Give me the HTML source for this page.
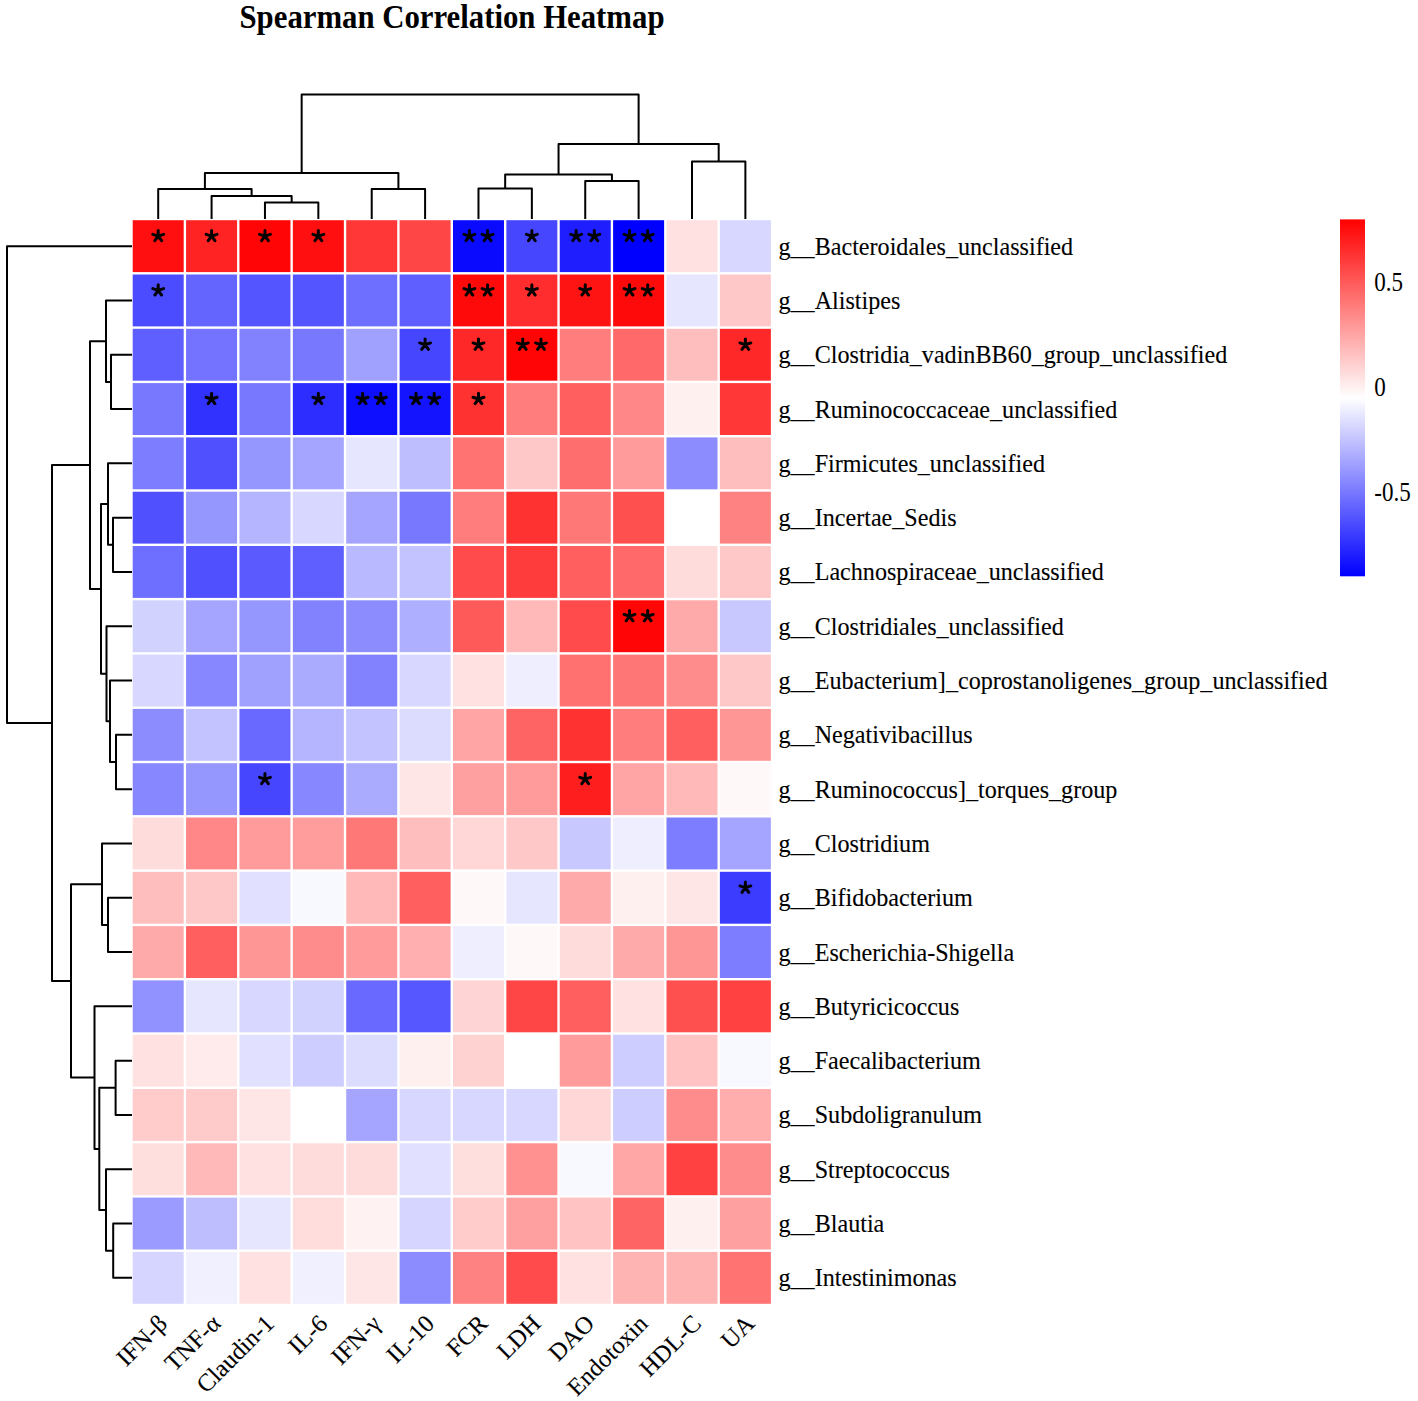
<!DOCTYPE html><html><head><meta charset="utf-8"><style>html,body{margin:0;padding:0;background:#fff;overflow:hidden;}svg{display:block}</style></head><body>
<svg width="1418" height="1401" viewBox="0 0 1418 1401">
<rect width="1418" height="1401" fill="#fff"/>
<text x="239.5" y="27.6" textLength="425" lengthAdjust="spacingAndGlyphs" font-family="Liberation Serif" font-weight="bold" font-size="33">Spearman Correlation Heatmap</text>
<rect x="132.70" y="220.20" width="51.0" height="51.9" fill="rgb(255,15,15)"/>
<rect x="186.08" y="220.20" width="51.0" height="51.9" fill="rgb(255,35,35)"/>
<rect x="239.46" y="220.20" width="51.0" height="51.9" fill="rgb(255,5,5)"/>
<rect x="292.84" y="220.20" width="51.0" height="51.9" fill="rgb(255,15,15)"/>
<rect x="346.22" y="220.20" width="51.0" height="51.9" fill="rgb(255,55,55)"/>
<rect x="399.60" y="220.20" width="51.0" height="51.9" fill="rgb(255,70,70)"/>
<rect x="452.98" y="220.20" width="51.0" height="51.9" fill="rgb(10,10,255)"/>
<rect x="506.36" y="220.20" width="51.0" height="51.9" fill="rgb(70,70,255)"/>
<rect x="559.74" y="220.20" width="51.0" height="51.9" fill="rgb(30,30,255)"/>
<rect x="613.12" y="220.20" width="51.0" height="51.9" fill="rgb(0,0,255)"/>
<rect x="666.50" y="220.20" width="51.0" height="51.9" fill="rgb(255,225,225)"/>
<rect x="719.88" y="220.20" width="51.0" height="51.9" fill="rgb(215,215,255)"/>
<rect x="132.70" y="274.50" width="51.0" height="51.9" fill="rgb(75,75,255)"/>
<rect x="186.08" y="274.50" width="51.0" height="51.9" fill="rgb(100,100,255)"/>
<rect x="239.46" y="274.50" width="51.0" height="51.9" fill="rgb(85,85,255)"/>
<rect x="292.84" y="274.50" width="51.0" height="51.9" fill="rgb(85,85,255)"/>
<rect x="346.22" y="274.50" width="51.0" height="51.9" fill="rgb(110,110,255)"/>
<rect x="399.60" y="274.50" width="51.0" height="51.9" fill="rgb(95,95,255)"/>
<rect x="452.98" y="274.50" width="51.0" height="51.9" fill="rgb(255,10,10)"/>
<rect x="506.36" y="274.50" width="51.0" height="51.9" fill="rgb(255,45,45)"/>
<rect x="559.74" y="274.50" width="51.0" height="51.9" fill="rgb(255,20,20)"/>
<rect x="613.12" y="274.50" width="51.0" height="51.9" fill="rgb(255,10,10)"/>
<rect x="666.50" y="274.50" width="51.0" height="51.9" fill="rgb(230,230,255)"/>
<rect x="719.88" y="274.50" width="51.0" height="51.9" fill="rgb(255,200,200)"/>
<rect x="132.70" y="328.80" width="51.0" height="51.9" fill="rgb(95,95,255)"/>
<rect x="186.08" y="328.80" width="51.0" height="51.9" fill="rgb(115,115,255)"/>
<rect x="239.46" y="328.80" width="51.0" height="51.9" fill="rgb(130,130,255)"/>
<rect x="292.84" y="328.80" width="51.0" height="51.9" fill="rgb(120,120,255)"/>
<rect x="346.22" y="328.80" width="51.0" height="51.9" fill="rgb(160,160,255)"/>
<rect x="399.60" y="328.80" width="51.0" height="51.9" fill="rgb(70,70,255)"/>
<rect x="452.98" y="328.80" width="51.0" height="51.9" fill="rgb(255,40,40)"/>
<rect x="506.36" y="328.80" width="51.0" height="51.9" fill="rgb(255,5,5)"/>
<rect x="559.74" y="328.80" width="51.0" height="51.9" fill="rgb(255,125,125)"/>
<rect x="613.12" y="328.80" width="51.0" height="51.9" fill="rgb(255,105,105)"/>
<rect x="666.50" y="328.80" width="51.0" height="51.9" fill="rgb(255,190,190)"/>
<rect x="719.88" y="328.80" width="51.0" height="51.9" fill="rgb(255,40,40)"/>
<rect x="132.70" y="383.10" width="51.0" height="51.9" fill="rgb(120,120,255)"/>
<rect x="186.08" y="383.10" width="51.0" height="51.9" fill="rgb(50,50,255)"/>
<rect x="239.46" y="383.10" width="51.0" height="51.9" fill="rgb(120,120,255)"/>
<rect x="292.84" y="383.10" width="51.0" height="51.9" fill="rgb(45,45,255)"/>
<rect x="346.22" y="383.10" width="51.0" height="51.9" fill="rgb(15,15,255)"/>
<rect x="399.60" y="383.10" width="51.0" height="51.9" fill="rgb(20,20,255)"/>
<rect x="452.98" y="383.10" width="51.0" height="51.9" fill="rgb(255,50,50)"/>
<rect x="506.36" y="383.10" width="51.0" height="51.9" fill="rgb(255,125,125)"/>
<rect x="559.74" y="383.10" width="51.0" height="51.9" fill="rgb(255,95,95)"/>
<rect x="613.12" y="383.10" width="51.0" height="51.9" fill="rgb(255,135,135)"/>
<rect x="666.50" y="383.10" width="51.0" height="51.9" fill="rgb(255,240,240)"/>
<rect x="719.88" y="383.10" width="51.0" height="51.9" fill="rgb(255,55,55)"/>
<rect x="132.70" y="437.40" width="51.0" height="51.9" fill="rgb(125,125,255)"/>
<rect x="186.08" y="437.40" width="51.0" height="51.9" fill="rgb(80,80,255)"/>
<rect x="239.46" y="437.40" width="51.0" height="51.9" fill="rgb(150,150,255)"/>
<rect x="292.84" y="437.40" width="51.0" height="51.9" fill="rgb(165,165,255)"/>
<rect x="346.22" y="437.40" width="51.0" height="51.9" fill="rgb(230,230,255)"/>
<rect x="399.60" y="437.40" width="51.0" height="51.9" fill="rgb(190,190,255)"/>
<rect x="452.98" y="437.40" width="51.0" height="51.9" fill="rgb(255,115,115)"/>
<rect x="506.36" y="437.40" width="51.0" height="51.9" fill="rgb(255,200,200)"/>
<rect x="559.74" y="437.40" width="51.0" height="51.9" fill="rgb(255,110,110)"/>
<rect x="613.12" y="437.40" width="51.0" height="51.9" fill="rgb(255,155,155)"/>
<rect x="666.50" y="437.40" width="51.0" height="51.9" fill="rgb(140,140,255)"/>
<rect x="719.88" y="437.40" width="51.0" height="51.9" fill="rgb(255,190,190)"/>
<rect x="132.70" y="491.70" width="51.0" height="51.9" fill="rgb(80,80,255)"/>
<rect x="186.08" y="491.70" width="51.0" height="51.9" fill="rgb(150,150,255)"/>
<rect x="239.46" y="491.70" width="51.0" height="51.9" fill="rgb(180,180,255)"/>
<rect x="292.84" y="491.70" width="51.0" height="51.9" fill="rgb(215,215,255)"/>
<rect x="346.22" y="491.70" width="51.0" height="51.9" fill="rgb(165,165,255)"/>
<rect x="399.60" y="491.70" width="51.0" height="51.9" fill="rgb(120,120,255)"/>
<rect x="452.98" y="491.70" width="51.0" height="51.9" fill="rgb(255,125,125)"/>
<rect x="506.36" y="491.70" width="51.0" height="51.9" fill="rgb(255,50,50)"/>
<rect x="559.74" y="491.70" width="51.0" height="51.9" fill="rgb(255,120,120)"/>
<rect x="613.12" y="491.70" width="51.0" height="51.9" fill="rgb(255,80,80)"/>
<rect x="666.50" y="491.70" width="51.0" height="51.9" fill="rgb(255,255,255)"/>
<rect x="719.88" y="491.70" width="51.0" height="51.9" fill="rgb(255,130,130)"/>
<rect x="132.70" y="546.00" width="51.0" height="51.9" fill="rgb(110,110,255)"/>
<rect x="186.08" y="546.00" width="51.0" height="51.9" fill="rgb(80,80,255)"/>
<rect x="239.46" y="546.00" width="51.0" height="51.9" fill="rgb(90,90,255)"/>
<rect x="292.84" y="546.00" width="51.0" height="51.9" fill="rgb(95,95,255)"/>
<rect x="346.22" y="546.00" width="51.0" height="51.9" fill="rgb(185,185,255)"/>
<rect x="399.60" y="546.00" width="51.0" height="51.9" fill="rgb(195,195,255)"/>
<rect x="452.98" y="546.00" width="51.0" height="51.9" fill="rgb(255,75,75)"/>
<rect x="506.36" y="546.00" width="51.0" height="51.9" fill="rgb(255,60,60)"/>
<rect x="559.74" y="546.00" width="51.0" height="51.9" fill="rgb(255,95,95)"/>
<rect x="613.12" y="546.00" width="51.0" height="51.9" fill="rgb(255,105,105)"/>
<rect x="666.50" y="546.00" width="51.0" height="51.9" fill="rgb(255,220,220)"/>
<rect x="719.88" y="546.00" width="51.0" height="51.9" fill="rgb(255,200,200)"/>
<rect x="132.70" y="600.30" width="51.0" height="51.9" fill="rgb(210,210,255)"/>
<rect x="186.08" y="600.30" width="51.0" height="51.9" fill="rgb(165,165,255)"/>
<rect x="239.46" y="600.30" width="51.0" height="51.9" fill="rgb(150,150,255)"/>
<rect x="292.84" y="600.30" width="51.0" height="51.9" fill="rgb(130,130,255)"/>
<rect x="346.22" y="600.30" width="51.0" height="51.9" fill="rgb(140,140,255)"/>
<rect x="399.60" y="600.30" width="51.0" height="51.9" fill="rgb(175,175,255)"/>
<rect x="452.98" y="600.30" width="51.0" height="51.9" fill="rgb(255,90,90)"/>
<rect x="506.36" y="600.30" width="51.0" height="51.9" fill="rgb(255,185,185)"/>
<rect x="559.74" y="600.30" width="51.0" height="51.9" fill="rgb(255,75,75)"/>
<rect x="613.12" y="600.30" width="51.0" height="51.9" fill="rgb(255,5,5)"/>
<rect x="666.50" y="600.30" width="51.0" height="51.9" fill="rgb(255,170,170)"/>
<rect x="719.88" y="600.30" width="51.0" height="51.9" fill="rgb(200,200,255)"/>
<rect x="132.70" y="654.60" width="51.0" height="51.9" fill="rgb(215,215,255)"/>
<rect x="186.08" y="654.60" width="51.0" height="51.9" fill="rgb(135,135,255)"/>
<rect x="239.46" y="654.60" width="51.0" height="51.9" fill="rgb(160,160,255)"/>
<rect x="292.84" y="654.60" width="51.0" height="51.9" fill="rgb(170,170,255)"/>
<rect x="346.22" y="654.60" width="51.0" height="51.9" fill="rgb(130,130,255)"/>
<rect x="399.60" y="654.60" width="51.0" height="51.9" fill="rgb(215,215,255)"/>
<rect x="452.98" y="654.60" width="51.0" height="51.9" fill="rgb(255,225,225)"/>
<rect x="506.36" y="654.60" width="51.0" height="51.9" fill="rgb(238,238,255)"/>
<rect x="559.74" y="654.60" width="51.0" height="51.9" fill="rgb(255,112,112)"/>
<rect x="613.12" y="654.60" width="51.0" height="51.9" fill="rgb(255,118,118)"/>
<rect x="666.50" y="654.60" width="51.0" height="51.9" fill="rgb(255,140,140)"/>
<rect x="719.88" y="654.60" width="51.0" height="51.9" fill="rgb(255,200,200)"/>
<rect x="132.70" y="708.90" width="51.0" height="51.9" fill="rgb(140,140,255)"/>
<rect x="186.08" y="708.90" width="51.0" height="51.9" fill="rgb(195,195,255)"/>
<rect x="239.46" y="708.90" width="51.0" height="51.9" fill="rgb(105,105,255)"/>
<rect x="292.84" y="708.90" width="51.0" height="51.9" fill="rgb(180,180,255)"/>
<rect x="346.22" y="708.90" width="51.0" height="51.9" fill="rgb(195,195,255)"/>
<rect x="399.60" y="708.90" width="51.0" height="51.9" fill="rgb(220,220,255)"/>
<rect x="452.98" y="708.90" width="51.0" height="51.9" fill="rgb(255,165,165)"/>
<rect x="506.36" y="708.90" width="51.0" height="51.9" fill="rgb(255,100,100)"/>
<rect x="559.74" y="708.90" width="51.0" height="51.9" fill="rgb(255,50,50)"/>
<rect x="613.12" y="708.90" width="51.0" height="51.9" fill="rgb(255,125,125)"/>
<rect x="666.50" y="708.90" width="51.0" height="51.9" fill="rgb(255,95,95)"/>
<rect x="719.88" y="708.90" width="51.0" height="51.9" fill="rgb(255,150,150)"/>
<rect x="132.70" y="763.20" width="51.0" height="51.9" fill="rgb(135,135,255)"/>
<rect x="186.08" y="763.20" width="51.0" height="51.9" fill="rgb(150,150,255)"/>
<rect x="239.46" y="763.20" width="51.0" height="51.9" fill="rgb(70,70,255)"/>
<rect x="292.84" y="763.20" width="51.0" height="51.9" fill="rgb(135,135,255)"/>
<rect x="346.22" y="763.20" width="51.0" height="51.9" fill="rgb(170,170,255)"/>
<rect x="399.60" y="763.20" width="51.0" height="51.9" fill="rgb(255,230,230)"/>
<rect x="452.98" y="763.20" width="51.0" height="51.9" fill="rgb(255,160,160)"/>
<rect x="506.36" y="763.20" width="51.0" height="51.9" fill="rgb(255,155,155)"/>
<rect x="559.74" y="763.20" width="51.0" height="51.9" fill="rgb(255,30,30)"/>
<rect x="613.12" y="763.20" width="51.0" height="51.9" fill="rgb(255,165,165)"/>
<rect x="666.50" y="763.20" width="51.0" height="51.9" fill="rgb(255,185,185)"/>
<rect x="719.88" y="763.20" width="51.0" height="51.9" fill="rgb(255,248,248)"/>
<rect x="132.70" y="817.50" width="51.0" height="51.9" fill="rgb(255,220,220)"/>
<rect x="186.08" y="817.50" width="51.0" height="51.9" fill="rgb(255,135,135)"/>
<rect x="239.46" y="817.50" width="51.0" height="51.9" fill="rgb(255,155,155)"/>
<rect x="292.84" y="817.50" width="51.0" height="51.9" fill="rgb(255,157,157)"/>
<rect x="346.22" y="817.50" width="51.0" height="51.9" fill="rgb(255,120,120)"/>
<rect x="399.60" y="817.50" width="51.0" height="51.9" fill="rgb(255,190,190)"/>
<rect x="452.98" y="817.50" width="51.0" height="51.9" fill="rgb(255,215,215)"/>
<rect x="506.36" y="817.50" width="51.0" height="51.9" fill="rgb(255,200,200)"/>
<rect x="559.74" y="817.50" width="51.0" height="51.9" fill="rgb(200,200,255)"/>
<rect x="613.12" y="817.50" width="51.0" height="51.9" fill="rgb(238,238,255)"/>
<rect x="666.50" y="817.50" width="51.0" height="51.9" fill="rgb(125,125,255)"/>
<rect x="719.88" y="817.50" width="51.0" height="51.9" fill="rgb(165,165,255)"/>
<rect x="132.70" y="871.80" width="51.0" height="51.9" fill="rgb(255,190,190)"/>
<rect x="186.08" y="871.80" width="51.0" height="51.9" fill="rgb(255,200,200)"/>
<rect x="239.46" y="871.80" width="51.0" height="51.9" fill="rgb(225,225,255)"/>
<rect x="292.84" y="871.80" width="51.0" height="51.9" fill="rgb(248,248,255)"/>
<rect x="346.22" y="871.80" width="51.0" height="51.9" fill="rgb(255,185,185)"/>
<rect x="399.60" y="871.80" width="51.0" height="51.9" fill="rgb(255,95,95)"/>
<rect x="452.98" y="871.80" width="51.0" height="51.9" fill="rgb(255,248,248)"/>
<rect x="506.36" y="871.80" width="51.0" height="51.9" fill="rgb(230,230,255)"/>
<rect x="559.74" y="871.80" width="51.0" height="51.9" fill="rgb(255,170,170)"/>
<rect x="613.12" y="871.80" width="51.0" height="51.9" fill="rgb(255,240,240)"/>
<rect x="666.50" y="871.80" width="51.0" height="51.9" fill="rgb(255,230,230)"/>
<rect x="719.88" y="871.80" width="51.0" height="51.9" fill="rgb(60,60,255)"/>
<rect x="132.70" y="926.10" width="51.0" height="51.9" fill="rgb(255,170,170)"/>
<rect x="186.08" y="926.10" width="51.0" height="51.9" fill="rgb(255,95,95)"/>
<rect x="239.46" y="926.10" width="51.0" height="51.9" fill="rgb(255,150,150)"/>
<rect x="292.84" y="926.10" width="51.0" height="51.9" fill="rgb(255,140,140)"/>
<rect x="346.22" y="926.10" width="51.0" height="51.9" fill="rgb(255,155,155)"/>
<rect x="399.60" y="926.10" width="51.0" height="51.9" fill="rgb(255,175,175)"/>
<rect x="452.98" y="926.10" width="51.0" height="51.9" fill="rgb(238,238,255)"/>
<rect x="506.36" y="926.10" width="51.0" height="51.9" fill="rgb(255,248,248)"/>
<rect x="559.74" y="926.10" width="51.0" height="51.9" fill="rgb(255,220,220)"/>
<rect x="613.12" y="926.10" width="51.0" height="51.9" fill="rgb(255,170,170)"/>
<rect x="666.50" y="926.10" width="51.0" height="51.9" fill="rgb(255,150,150)"/>
<rect x="719.88" y="926.10" width="51.0" height="51.9" fill="rgb(125,125,255)"/>
<rect x="132.70" y="980.40" width="51.0" height="51.9" fill="rgb(145,145,255)"/>
<rect x="186.08" y="980.40" width="51.0" height="51.9" fill="rgb(230,230,255)"/>
<rect x="239.46" y="980.40" width="51.0" height="51.9" fill="rgb(215,215,255)"/>
<rect x="292.84" y="980.40" width="51.0" height="51.9" fill="rgb(210,210,255)"/>
<rect x="346.22" y="980.40" width="51.0" height="51.9" fill="rgb(105,105,255)"/>
<rect x="399.60" y="980.40" width="51.0" height="51.9" fill="rgb(87,87,255)"/>
<rect x="452.98" y="980.40" width="51.0" height="51.9" fill="rgb(255,212,212)"/>
<rect x="506.36" y="980.40" width="51.0" height="51.9" fill="rgb(255,70,70)"/>
<rect x="559.74" y="980.40" width="51.0" height="51.9" fill="rgb(255,95,95)"/>
<rect x="613.12" y="980.40" width="51.0" height="51.9" fill="rgb(255,225,225)"/>
<rect x="666.50" y="980.40" width="51.0" height="51.9" fill="rgb(255,80,80)"/>
<rect x="719.88" y="980.40" width="51.0" height="51.9" fill="rgb(255,65,65)"/>
<rect x="132.70" y="1034.70" width="51.0" height="51.9" fill="rgb(255,225,225)"/>
<rect x="186.08" y="1034.70" width="51.0" height="51.9" fill="rgb(255,235,235)"/>
<rect x="239.46" y="1034.70" width="51.0" height="51.9" fill="rgb(225,225,255)"/>
<rect x="292.84" y="1034.70" width="51.0" height="51.9" fill="rgb(205,205,255)"/>
<rect x="346.22" y="1034.70" width="51.0" height="51.9" fill="rgb(220,220,255)"/>
<rect x="399.60" y="1034.70" width="51.0" height="51.9" fill="rgb(255,240,240)"/>
<rect x="452.98" y="1034.70" width="51.0" height="51.9" fill="rgb(255,210,210)"/>
<rect x="506.36" y="1034.70" width="51.0" height="51.9" fill="rgb(255,255,255)"/>
<rect x="559.74" y="1034.70" width="51.0" height="51.9" fill="rgb(255,155,155)"/>
<rect x="613.12" y="1034.70" width="51.0" height="51.9" fill="rgb(205,205,255)"/>
<rect x="666.50" y="1034.70" width="51.0" height="51.9" fill="rgb(255,195,195)"/>
<rect x="719.88" y="1034.70" width="51.0" height="51.9" fill="rgb(248,248,255)"/>
<rect x="132.70" y="1089.00" width="51.0" height="51.9" fill="rgb(255,203,203)"/>
<rect x="186.08" y="1089.00" width="51.0" height="51.9" fill="rgb(255,202,202)"/>
<rect x="239.46" y="1089.00" width="51.0" height="51.9" fill="rgb(255,230,230)"/>
<rect x="292.84" y="1089.00" width="51.0" height="51.9" fill="rgb(255,255,255)"/>
<rect x="346.22" y="1089.00" width="51.0" height="51.9" fill="rgb(165,165,255)"/>
<rect x="399.60" y="1089.00" width="51.0" height="51.9" fill="rgb(215,215,255)"/>
<rect x="452.98" y="1089.00" width="51.0" height="51.9" fill="rgb(215,215,255)"/>
<rect x="506.36" y="1089.00" width="51.0" height="51.9" fill="rgb(215,215,255)"/>
<rect x="559.74" y="1089.00" width="51.0" height="51.9" fill="rgb(255,215,215)"/>
<rect x="613.12" y="1089.00" width="51.0" height="51.9" fill="rgb(205,205,255)"/>
<rect x="666.50" y="1089.00" width="51.0" height="51.9" fill="rgb(255,140,140)"/>
<rect x="719.88" y="1089.00" width="51.0" height="51.9" fill="rgb(255,173,173)"/>
<rect x="132.70" y="1143.30" width="51.0" height="51.9" fill="rgb(255,222,222)"/>
<rect x="186.08" y="1143.30" width="51.0" height="51.9" fill="rgb(255,185,185)"/>
<rect x="239.46" y="1143.30" width="51.0" height="51.9" fill="rgb(255,225,225)"/>
<rect x="292.84" y="1143.30" width="51.0" height="51.9" fill="rgb(255,220,220)"/>
<rect x="346.22" y="1143.30" width="51.0" height="51.9" fill="rgb(255,220,220)"/>
<rect x="399.60" y="1143.30" width="51.0" height="51.9" fill="rgb(225,225,255)"/>
<rect x="452.98" y="1143.30" width="51.0" height="51.9" fill="rgb(255,222,222)"/>
<rect x="506.36" y="1143.30" width="51.0" height="51.9" fill="rgb(255,145,145)"/>
<rect x="559.74" y="1143.30" width="51.0" height="51.9" fill="rgb(248,248,255)"/>
<rect x="613.12" y="1143.30" width="51.0" height="51.9" fill="rgb(255,167,167)"/>
<rect x="666.50" y="1143.30" width="51.0" height="51.9" fill="rgb(255,65,65)"/>
<rect x="719.88" y="1143.30" width="51.0" height="51.9" fill="rgb(255,140,140)"/>
<rect x="132.70" y="1197.60" width="51.0" height="51.9" fill="rgb(155,155,255)"/>
<rect x="186.08" y="1197.60" width="51.0" height="51.9" fill="rgb(190,190,255)"/>
<rect x="239.46" y="1197.60" width="51.0" height="51.9" fill="rgb(230,230,255)"/>
<rect x="292.84" y="1197.60" width="51.0" height="51.9" fill="rgb(255,221,221)"/>
<rect x="346.22" y="1197.60" width="51.0" height="51.9" fill="rgb(255,242,242)"/>
<rect x="399.60" y="1197.60" width="51.0" height="51.9" fill="rgb(213,213,255)"/>
<rect x="452.98" y="1197.60" width="51.0" height="51.9" fill="rgb(255,203,203)"/>
<rect x="506.36" y="1197.60" width="51.0" height="51.9" fill="rgb(255,160,160)"/>
<rect x="559.74" y="1197.60" width="51.0" height="51.9" fill="rgb(255,195,195)"/>
<rect x="613.12" y="1197.60" width="51.0" height="51.9" fill="rgb(255,100,100)"/>
<rect x="666.50" y="1197.60" width="51.0" height="51.9" fill="rgb(255,240,240)"/>
<rect x="719.88" y="1197.60" width="51.0" height="51.9" fill="rgb(255,160,160)"/>
<rect x="132.70" y="1251.90" width="51.0" height="51.9" fill="rgb(213,213,255)"/>
<rect x="186.08" y="1251.90" width="51.0" height="51.9" fill="rgb(240,240,255)"/>
<rect x="239.46" y="1251.90" width="51.0" height="51.9" fill="rgb(255,225,225)"/>
<rect x="292.84" y="1251.90" width="51.0" height="51.9" fill="rgb(240,240,255)"/>
<rect x="346.22" y="1251.90" width="51.0" height="51.9" fill="rgb(255,230,230)"/>
<rect x="399.60" y="1251.90" width="51.0" height="51.9" fill="rgb(140,140,255)"/>
<rect x="452.98" y="1251.90" width="51.0" height="51.9" fill="rgb(255,130,130)"/>
<rect x="506.36" y="1251.90" width="51.0" height="51.9" fill="rgb(255,75,75)"/>
<rect x="559.74" y="1251.90" width="51.0" height="51.9" fill="rgb(255,225,225)"/>
<rect x="613.12" y="1251.90" width="51.0" height="51.9" fill="rgb(255,180,180)"/>
<rect x="666.50" y="1251.90" width="51.0" height="51.9" fill="rgb(255,180,180)"/>
<rect x="719.88" y="1251.90" width="51.0" height="51.9" fill="rgb(255,115,115)"/>
<path d="M158.20 236.10L158.20 230.40M158.20 236.10L163.62 234.34M158.20 236.10L161.55 240.71M158.20 236.10L154.85 240.71M158.20 236.10L152.78 234.34M211.58 236.10L211.58 230.40M211.58 236.10L217.00 234.34M211.58 236.10L214.93 240.71M211.58 236.10L208.23 240.71M211.58 236.10L206.16 234.34M264.96 236.10L264.96 230.40M264.96 236.10L270.38 234.34M264.96 236.10L268.31 240.71M264.96 236.10L261.61 240.71M264.96 236.10L259.54 234.34M318.34 236.10L318.34 230.40M318.34 236.10L323.76 234.34M318.34 236.10L321.69 240.71M318.34 236.10L314.99 240.71M318.34 236.10L312.92 234.34M469.38 236.10L469.38 230.40M469.38 236.10L474.80 234.34M469.38 236.10L472.73 240.71M469.38 236.10L466.03 240.71M469.38 236.10L463.96 234.34M487.58 236.10L487.58 230.40M487.58 236.10L493.00 234.34M487.58 236.10L490.93 240.71M487.58 236.10L484.23 240.71M487.58 236.10L482.16 234.34M531.86 236.10L531.86 230.40M531.86 236.10L537.28 234.34M531.86 236.10L535.21 240.71M531.86 236.10L528.51 240.71M531.86 236.10L526.44 234.34M576.14 236.10L576.14 230.40M576.14 236.10L581.56 234.34M576.14 236.10L579.49 240.71M576.14 236.10L572.79 240.71M576.14 236.10L570.72 234.34M594.34 236.10L594.34 230.40M594.34 236.10L599.76 234.34M594.34 236.10L597.69 240.71M594.34 236.10L590.99 240.71M594.34 236.10L588.92 234.34M629.52 236.10L629.52 230.40M629.52 236.10L634.94 234.34M629.52 236.10L632.87 240.71M629.52 236.10L626.17 240.71M629.52 236.10L624.10 234.34M647.72 236.10L647.72 230.40M647.72 236.10L653.14 234.34M647.72 236.10L651.07 240.71M647.72 236.10L644.37 240.71M647.72 236.10L642.30 234.34M158.20 290.40L158.20 284.70M158.20 290.40L163.62 288.64M158.20 290.40L161.55 295.01M158.20 290.40L154.85 295.01M158.20 290.40L152.78 288.64M469.38 290.40L469.38 284.70M469.38 290.40L474.80 288.64M469.38 290.40L472.73 295.01M469.38 290.40L466.03 295.01M469.38 290.40L463.96 288.64M487.58 290.40L487.58 284.70M487.58 290.40L493.00 288.64M487.58 290.40L490.93 295.01M487.58 290.40L484.23 295.01M487.58 290.40L482.16 288.64M531.86 290.40L531.86 284.70M531.86 290.40L537.28 288.64M531.86 290.40L535.21 295.01M531.86 290.40L528.51 295.01M531.86 290.40L526.44 288.64M585.24 290.40L585.24 284.70M585.24 290.40L590.66 288.64M585.24 290.40L588.59 295.01M585.24 290.40L581.89 295.01M585.24 290.40L579.82 288.64M629.52 290.40L629.52 284.70M629.52 290.40L634.94 288.64M629.52 290.40L632.87 295.01M629.52 290.40L626.17 295.01M629.52 290.40L624.10 288.64M647.72 290.40L647.72 284.70M647.72 290.40L653.14 288.64M647.72 290.40L651.07 295.01M647.72 290.40L644.37 295.01M647.72 290.40L642.30 288.64M425.10 344.70L425.10 339.00M425.10 344.70L430.52 342.94M425.10 344.70L428.45 349.31M425.10 344.70L421.75 349.31M425.10 344.70L419.68 342.94M478.48 344.70L478.48 339.00M478.48 344.70L483.90 342.94M478.48 344.70L481.83 349.31M478.48 344.70L475.13 349.31M478.48 344.70L473.06 342.94M522.76 344.70L522.76 339.00M522.76 344.70L528.18 342.94M522.76 344.70L526.11 349.31M522.76 344.70L519.41 349.31M522.76 344.70L517.34 342.94M540.96 344.70L540.96 339.00M540.96 344.70L546.38 342.94M540.96 344.70L544.31 349.31M540.96 344.70L537.61 349.31M540.96 344.70L535.54 342.94M745.38 344.70L745.38 339.00M745.38 344.70L750.80 342.94M745.38 344.70L748.73 349.31M745.38 344.70L742.03 349.31M745.38 344.70L739.96 342.94M211.58 399.00L211.58 393.30M211.58 399.00L217.00 397.24M211.58 399.00L214.93 403.61M211.58 399.00L208.23 403.61M211.58 399.00L206.16 397.24M318.34 399.00L318.34 393.30M318.34 399.00L323.76 397.24M318.34 399.00L321.69 403.61M318.34 399.00L314.99 403.61M318.34 399.00L312.92 397.24M362.62 399.00L362.62 393.30M362.62 399.00L368.04 397.24M362.62 399.00L365.97 403.61M362.62 399.00L359.27 403.61M362.62 399.00L357.20 397.24M380.82 399.00L380.82 393.30M380.82 399.00L386.24 397.24M380.82 399.00L384.17 403.61M380.82 399.00L377.47 403.61M380.82 399.00L375.40 397.24M416.00 399.00L416.00 393.30M416.00 399.00L421.42 397.24M416.00 399.00L419.35 403.61M416.00 399.00L412.65 403.61M416.00 399.00L410.58 397.24M434.20 399.00L434.20 393.30M434.20 399.00L439.62 397.24M434.20 399.00L437.55 403.61M434.20 399.00L430.85 403.61M434.20 399.00L428.78 397.24M478.48 399.00L478.48 393.30M478.48 399.00L483.90 397.24M478.48 399.00L481.83 403.61M478.48 399.00L475.13 403.61M478.48 399.00L473.06 397.24M629.52 616.20L629.52 610.50M629.52 616.20L634.94 614.44M629.52 616.20L632.87 620.81M629.52 616.20L626.17 620.81M629.52 616.20L624.10 614.44M647.72 616.20L647.72 610.50M647.72 616.20L653.14 614.44M647.72 616.20L651.07 620.81M647.72 616.20L644.37 620.81M647.72 616.20L642.30 614.44M264.96 779.10L264.96 773.40M264.96 779.10L270.38 777.34M264.96 779.10L268.31 783.71M264.96 779.10L261.61 783.71M264.96 779.10L259.54 777.34M585.24 779.10L585.24 773.40M585.24 779.10L590.66 777.34M585.24 779.10L588.59 783.71M585.24 779.10L581.89 783.71M585.24 779.10L579.82 777.34M745.38 887.70L745.38 882.00M745.38 887.70L750.80 885.94M745.38 887.70L748.73 892.31M745.38 887.70L742.03 892.31M745.38 887.70L739.96 885.94" stroke="#000" stroke-width="3.0" stroke-linecap="round" fill="none"/>
<text transform="translate(778.5 254.65) scale(0.985 1)" font-family="Liberation Serif" font-size="24.5" stroke="#000" stroke-width="0.12">g__Bacteroidales_unclassified</text>
<text transform="translate(778.5 308.95) scale(0.985 1)" font-family="Liberation Serif" font-size="24.5" stroke="#000" stroke-width="0.12">g__Alistipes</text>
<text transform="translate(778.5 363.25) scale(0.985 1)" font-family="Liberation Serif" font-size="24.5" stroke="#000" stroke-width="0.12">g__Clostridia_vadinBB60_group_unclassified</text>
<text transform="translate(778.5 417.55) scale(0.985 1)" font-family="Liberation Serif" font-size="24.5" stroke="#000" stroke-width="0.12">g__Ruminococcaceae_unclassified</text>
<text transform="translate(778.5 471.85) scale(0.985 1)" font-family="Liberation Serif" font-size="24.5" stroke="#000" stroke-width="0.12">g__Firmicutes_unclassified</text>
<text transform="translate(778.5 526.15) scale(0.985 1)" font-family="Liberation Serif" font-size="24.5" stroke="#000" stroke-width="0.12">g__Incertae_Sedis</text>
<text transform="translate(778.5 580.45) scale(0.985 1)" font-family="Liberation Serif" font-size="24.5" stroke="#000" stroke-width="0.12">g__Lachnospiraceae_unclassified</text>
<text transform="translate(778.5 634.75) scale(0.985 1)" font-family="Liberation Serif" font-size="24.5" stroke="#000" stroke-width="0.12">g__Clostridiales_unclassified</text>
<text transform="translate(778.5 689.05) scale(0.985 1)" font-family="Liberation Serif" font-size="24.5" stroke="#000" stroke-width="0.12">g__Eubacterium]_coprostanoligenes_group_unclassified</text>
<text transform="translate(778.5 743.35) scale(0.985 1)" font-family="Liberation Serif" font-size="24.5" stroke="#000" stroke-width="0.12">g__Negativibacillus</text>
<text transform="translate(778.5 797.65) scale(0.985 1)" font-family="Liberation Serif" font-size="24.5" stroke="#000" stroke-width="0.12">g__Ruminococcus]_torques_group</text>
<text transform="translate(778.5 851.95) scale(0.985 1)" font-family="Liberation Serif" font-size="24.5" stroke="#000" stroke-width="0.12">g__Clostridium</text>
<text transform="translate(778.5 906.25) scale(0.985 1)" font-family="Liberation Serif" font-size="24.5" stroke="#000" stroke-width="0.12">g__Bifidobacterium</text>
<text transform="translate(778.5 960.55) scale(0.985 1)" font-family="Liberation Serif" font-size="24.5" stroke="#000" stroke-width="0.12">g__Escherichia-Shigella</text>
<text transform="translate(778.5 1014.85) scale(0.985 1)" font-family="Liberation Serif" font-size="24.5" stroke="#000" stroke-width="0.12">g__Butyricicoccus</text>
<text transform="translate(778.5 1069.15) scale(0.985 1)" font-family="Liberation Serif" font-size="24.5" stroke="#000" stroke-width="0.12">g__Faecalibacterium</text>
<text transform="translate(778.5 1123.45) scale(0.985 1)" font-family="Liberation Serif" font-size="24.5" stroke="#000" stroke-width="0.12">g__Subdoligranulum</text>
<text transform="translate(778.5 1177.75) scale(0.985 1)" font-family="Liberation Serif" font-size="24.5" stroke="#000" stroke-width="0.12">g__Streptococcus</text>
<text transform="translate(778.5 1232.05) scale(0.985 1)" font-family="Liberation Serif" font-size="24.5" stroke="#000" stroke-width="0.12">g__Blautia</text>
<text transform="translate(778.5 1286.35) scale(0.985 1)" font-family="Liberation Serif" font-size="24.5" stroke="#000" stroke-width="0.12">g__Intestinimonas</text>
<text x="168.70" y="1325" text-anchor="end" transform="rotate(-45 168.70 1325)" font-family="Liberation Serif" font-size="24.5" stroke="#000" stroke-width="0.12">IFN-β</text>
<text x="222.08" y="1325" text-anchor="end" transform="rotate(-45 222.08 1325)" font-family="Liberation Serif" font-size="24.5" stroke="#000" stroke-width="0.12">TNF-α</text>
<text x="275.46" y="1325" text-anchor="end" transform="rotate(-45 275.46 1325)" font-family="Liberation Serif" font-size="24.5" stroke="#000" stroke-width="0.12">Claudin-1</text>
<text x="328.84" y="1325" text-anchor="end" transform="rotate(-45 328.84 1325)" font-family="Liberation Serif" font-size="24.5" stroke="#000" stroke-width="0.12">IL-6</text>
<text x="382.22" y="1325" text-anchor="end" transform="rotate(-45 382.22 1325)" font-family="Liberation Serif" font-size="24.5" stroke="#000" stroke-width="0.12">IFN-γ</text>
<text x="435.60" y="1325" text-anchor="end" transform="rotate(-45 435.60 1325)" font-family="Liberation Serif" font-size="24.5" stroke="#000" stroke-width="0.12">IL-10</text>
<text x="488.98" y="1325" text-anchor="end" transform="rotate(-45 488.98 1325)" font-family="Liberation Serif" font-size="24.5" stroke="#000" stroke-width="0.12">FCR</text>
<text x="542.36" y="1325" text-anchor="end" transform="rotate(-45 542.36 1325)" font-family="Liberation Serif" font-size="24.5" stroke="#000" stroke-width="0.12">LDH</text>
<text x="595.74" y="1325" text-anchor="end" transform="rotate(-45 595.74 1325)" font-family="Liberation Serif" font-size="24.5" stroke="#000" stroke-width="0.12">DAO</text>
<text x="649.12" y="1325" text-anchor="end" transform="rotate(-45 649.12 1325)" font-family="Liberation Serif" font-size="24.5" stroke="#000" stroke-width="0.12">Endotoxin</text>
<text x="702.50" y="1325" text-anchor="end" transform="rotate(-45 702.50 1325)" font-family="Liberation Serif" font-size="24.5" stroke="#000" stroke-width="0.12">HDL-C</text>
<text x="755.88" y="1325" text-anchor="end" transform="rotate(-45 755.88 1325)" font-family="Liberation Serif" font-size="24.5" stroke="#000" stroke-width="0.12">UA</text>
<path d="M264.96 218.00L264.96 202.50L318.34 202.50L318.34 218.00M211.58 218.00L211.58 196.00L291.65 196.00L291.65 202.50M158.20 218.00L158.20 189.00L251.61 189.00L251.61 196.00M371.72 218.00L371.72 189.00L425.10 189.00L425.10 218.00M204.91 189.00L204.91 173.00L398.41 173.00L398.41 189.00M478.48 218.00L478.48 188.50L531.86 188.50L531.86 218.00M585.24 218.00L585.24 181.00L638.62 181.00L638.62 218.00M505.17 188.50L505.17 174.50L611.93 174.50L611.93 181.00M692.00 218.00L692.00 161.50L745.38 161.50L745.38 218.00M558.55 174.50L558.55 144.00L718.69 144.00L718.69 161.50M301.66 173.00L301.66 94.60L638.62 94.60L638.62 144.00M131.00 354.75L111.00 354.75L111.00 409.05L131.00 409.05M131.00 300.45L106.00 300.45L106.00 381.90L111.00 381.90M131.00 517.65L113.00 517.65L113.00 571.95L131.00 571.95M131.00 463.35L108.00 463.35L108.00 544.80L113.00 544.80M131.00 734.85L116.00 734.85L116.00 789.15L131.00 789.15M131.00 680.55L110.00 680.55L110.00 762.00L116.00 762.00M131.00 626.25L106.50 626.25L106.50 721.27L110.00 721.27M108.00 504.07L101.00 504.07L101.00 673.76L106.50 673.76M106.00 341.17L90.00 341.17L90.00 588.92L101.00 588.92M131.00 897.75L108.00 897.75L108.00 952.05L131.00 952.05M131.00 843.45L102.00 843.45L102.00 924.90L108.00 924.90M131.00 1060.65L115.60 1060.65L115.60 1114.95L131.00 1114.95M131.00 1223.55L113.20 1223.55L113.20 1277.85L131.00 1277.85M131.00 1169.25L106.00 1169.25L106.00 1250.70L113.20 1250.70M115.60 1087.80L99.30 1087.80L99.30 1209.97L106.00 1209.97M131.00 1006.35L94.50 1006.35L94.50 1148.89L99.30 1148.89M102.00 884.17L71.00 884.17L71.00 1077.62L94.50 1077.62M90.00 465.05L52.00 465.05L52.00 980.90L71.00 980.90M131.00 246.15L7.00 246.15L7.00 722.97L52.00 722.97" stroke="#000" stroke-width="2" fill="none" stroke-linecap="square" stroke-linejoin="round"/>
<defs><linearGradient id="cb" x1="0" y1="0" x2="0" y2="1"><stop offset="0" stop-color="#ff0000"/><stop offset="0.5" stop-color="#ffffff"/><stop offset="1" stop-color="#0000ff"/></linearGradient></defs>
<rect x="1340" y="219.4" width="25" height="356.9" fill="url(#cb)"/>
<text transform="translate(1374.3 290.8) scale(0.96 1.15)" font-family="Liberation Serif" font-size="24">0.5</text>
<text transform="translate(1374.3 396.4) scale(0.96 1.15)" font-family="Liberation Serif" font-size="24">0</text>
<text transform="translate(1374.3 500.8) scale(0.96 1.15)" font-family="Liberation Serif" font-size="24">-0.5</text>
</svg></body></html>
